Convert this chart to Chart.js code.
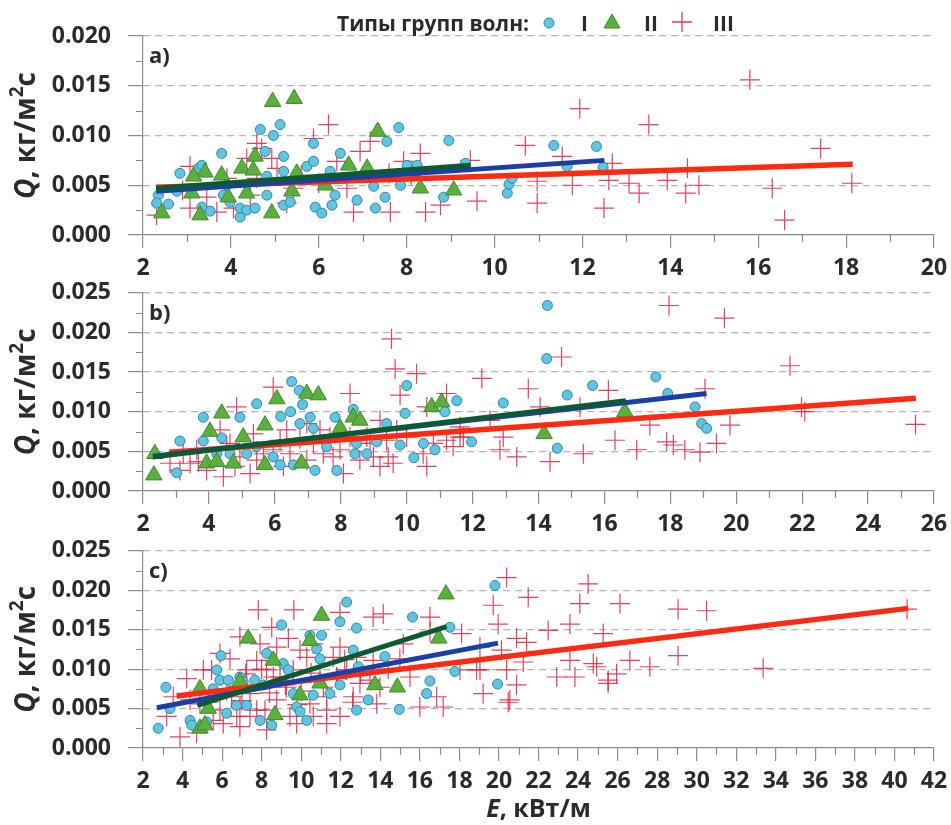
<!DOCTYPE html>
<html lang="ru">
<head>
<meta charset="utf-8">
<script src="https://cdn.jsdelivr.net/npm/chart.js@4.4.1/dist/chart.umd.min.js"></script>
<style>
  html, body { margin: 0; padding: 0; background: #fff; overflow: hidden; }
  #wrap { position: relative; width: 951px; height: 825px; overflow: hidden; }
  #wrap canvas { position: absolute; left: 0; }
  .lg { position: absolute; top: 9px; line-height: 26px; font: bold 21px "Open Sans", sans-serif; color: #2b2b2b; z-index: 5; white-space: nowrap; }
  .mk { position: absolute; z-index: 5; }
</style>
</head>
<body>
<div id="wrap">
  <canvas id="panelA" width="990" height="290" style="top:0px"></canvas>
  <canvas id="panelB" width="990" height="290" style="top:262px"></canvas>
  <canvas id="panelC" width="990" height="305" style="top:520px"></canvas>

  <div class="lg" style="left:337px">Типы групп волн:</div>
  <svg class="mk" style="left:543px;top:17px" width="12" height="12"><circle cx="6" cy="6" r="5" fill="#63c5dd" stroke="#2b86ad"/></svg>
  <div class="lg" style="left:581px">I</div>
  <svg class="mk" style="left:603px;top:13px" width="18" height="16"><polygon points="9,1 17,15 1,15" fill="#5cae3e" stroke="#3f8a2c"/></svg>
  <div class="lg" style="left:644px">II</div>
  <svg class="mk" style="left:672px;top:12px" width="20" height="20"><path d="M10 0 V20 M0 10 H20" stroke="rgba(215,35,65,0.9)" stroke-width="1.3"/></svg>
  <div class="lg" style="left:713px">III</div>
</div>
<script>
// ---- data: [E, Q] pairs ----
// panel a)
const aTypeI = [[2.35,0.0040],[2.31,0.0032],[2.58,0.0031],[2.84,0.0062],[3.26,0.0067],[3.34,0.0070],[2.77,0.0044],[3.34,0.0028],[3.53,0.0024],[3.79,0.0082],[3.83,0.0040],[3.98,0.0033],[4.21,0.0018],[4.21,0.0027],[4.36,0.0025],[4.55,0.0027],[4.67,0.0106],[4.78,0.0084],[4.82,0.0059],[4.97,0.0100],[5.12,0.0111],[5.20,0.0079],[5.20,0.0064],[5.20,0.0030],[5.73,0.0069],[5.88,0.0092],[5.88,0.0074],[5.92,0.0028],[6.07,0.0022],[6.30,0.0030],[6.26,0.0064],[6.37,0.0040],[6.49,0.0082],[6.87,0.0035],[7.25,0.0049],[7.29,0.0027],[7.51,0.0038],[7.55,0.0094],[7.82,0.0108],[7.86,0.0050],[8.01,0.0070],[8.24,0.0070],[8.84,0.0038],[8.96,0.0095],[5.35,0.0033],[4.82,0.0040],[3.91,0.0050],[9.34,0.0072],[10.29,0.0042],[10.33,0.0051],[10.40,0.0057],[11.35,0.0090],[11.65,0.0069],[12.32,0.0089],[12.47,0.0068]];
const aTypeII = [[4.95,0.0134],[5.44,0.0137],[7.34,0.0104],[4.55,0.0079],[4.25,0.0067],[3.41,0.0063],[3.15,0.0059],[3.11,0.0042],[3.79,0.0060],[3.94,0.0038],[4.36,0.0042],[4.51,0.0065],[4.93,0.0022],[3.30,0.0020],[2.43,0.0022],[5.50,0.0062],[5.39,0.0044],[6.15,0.0050],[6.68,0.0070],[7.10,0.0067],[8.31,0.0047],[9.07,0.0045]];
const aTypeIII = [[2.31,0.0020],[3.07,0.0027],[3.07,0.0069],[3.45,0.0038],[3.68,0.0023],[4.06,0.0027],[4.36,0.0077],[4.44,0.0040],[4.59,0.0092],[4.70,0.0087],[4.93,0.0077],[5.05,0.0067],[5.27,0.0032],[5.42,0.0047],[5.88,0.0097],[6.22,0.0111],[6.41,0.0074],[6.64,0.0047],[6.79,0.0023],[6.94,0.0084],[7.17,0.0094],[7.63,0.0023],[7.93,0.0074],[8.31,0.0082],[8.43,0.0023],[8.77,0.0030],[3.91,0.0057],[4.59,0.0057],[5.6,0.0060],[6.0,0.0052],[7.6,0.0062],[8.1,0.0060],[2.9,0.0045],[10.70,0.0090],[11.94,0.0127],[13.51,0.0111],[9.60,0.0034],[10.97,0.0054],[10.97,0.0032],[11.54,0.0079],[11.77,0.0050],[12.49,0.0027],[12.68,0.0072],[12.60,0.0055],[13.06,0.0052],[13.29,0.0042],[13.93,0.0055],[14.35,0.0042],[9.45,0.0075],[15.81,0.0156],[17.42,0.0087],[16.32,0.0047],[16.60,0.0015],[18.13,0.0052],[14.39,0.0067],[14.65,0.0050]];
const aTrendI = [[2.3,0.0044],[12.5,0.0075]];
const aTrendII = [[2.3,0.0047],[9.45,0.0070]];
const aTrendIII = [[2.3,0.0048],[18.15,0.0071]];

// panel b)
const bTypeI = [[3.12,0.0063],[3.02,0.0023],[3.83,0.0093],[3.83,0.0063],[4.39,0.0067],[4.94,0.0093],[5.45,0.0110],[6.18,0.0094],[6.51,0.0138],[6.74,0.0127],[6.48,0.0100],[6.84,0.0109],[6.76,0.0085],[7.07,0.0093],[7.17,0.0079],[7.83,0.0093],[7.88,0.0026],[8.38,0.0103],[8.43,0.0047],[8.79,0.0047],[10.00,0.0133],[9.95,0.0098],[10.22,0.0042],[10.51,0.0060],[10.86,0.0052],[11.52,0.0114],[11.16,0.0100],[9.39,0.0085],[7.22,0.0026],[6.16,0.0033],[6.56,0.0033],[4.24,0.0047],[4.64,0.0047],[5.15,0.0047],[5.45,0.0056],[7.57,0.0056],[8.48,0.0060],[5.95,0.0043],[9.09,0.0062],[9.80,0.0058],[14.25,0.0167],[15.64,0.0133],[14.87,0.0121],[12.93,0.0111],[11.97,0.0062],[14.57,0.0054],[17.56,0.0144],[17.92,0.0123],[18.75,0.0106],[18.95,0.0085],[19.10,0.0079],[14.27,0.0234]];
const bTypeII = [[2.36,0.0047],[2.33,0.0020],[4.39,0.0098],[4.03,0.0075],[6.06,0.0116],[6.97,0.0123],[7.32,0.0121],[5.70,0.0083],[5.04,0.0068],[3.93,0.0035],[4.24,0.0037],[4.74,0.0035],[5.70,0.0033],[6.81,0.0035],[8.38,0.0093],[8.58,0.0089],[7.98,0.0079],[10.76,0.0106],[11.06,0.0112],[14.17,0.0072],[16.62,0.0100]];
const bTypeIII = [[9.54,0.0192],[9.65,0.0154],[10.30,0.0148],[8.28,0.0123],[5.95,0.0131],[4.84,0.0106],[4.34,0.0077],[3.43,0.0035],[3.93,0.0026],[4.44,0.0018],[5.25,0.0022],[5.95,0.0052],[6.36,0.0077],[7.17,0.0060],[8.08,0.0022],[8.28,0.0068],[8.99,0.0043],[9.39,0.0064],[9.59,0.0035],[9.80,0.0121],[10.61,0.0106],[11.21,0.0123],[11.62,0.0081],[3.12,0.0026],[2.82,0.0035],[5.35,0.0072],[6.76,0.0066],[7.47,0.0047],[4.94,0.0043],[5.65,0.0047],[6.46,0.0047],[8.79,0.0068],[7.77,0.0043],[9.19,0.0089],[11.21,0.0064],[3.63,0.0052],[4.64,0.0060],[6.97,0.0039],[10.61,0.0031],[3.22,0.0047],[3.68,0.0037],[4.54,0.0056],[4.79,0.0031],[5.45,0.0039],[6.16,0.0064],[6.26,0.0031],[6.97,0.0085],[7.37,0.0077],[7.67,0.0068],[7.98,0.0052],[8.58,0.0039],[8.89,0.0060],[9.19,0.0031],[9.44,0.0043],[9.70,0.0077],[10.00,0.0068],[10.50,0.0047],[10.81,0.0060],[11.41,0.0056],[11.72,0.0068],[12.28,0.0142],[13.69,0.0129],[14.70,0.0169],[16.12,0.0127],[19.05,0.0129],[19.81,0.0083],[17.38,0.0083],[16.32,0.0064],[16.98,0.0052],[15.36,0.0047],[14.35,0.0037],[13.34,0.0043],[12.83,0.0052],[12.93,0.0068],[14.05,0.0106],[15.26,0.0106],[17.89,0.0062],[18.09,0.0058],[18.44,0.0052],[18.90,0.0049],[19.40,0.0060],[11.62,0.0068],[12.53,0.0089],[17.96,0.0234],[19.64,0.0218],[21.63,0.0158],[22.08,0.0100],[25.44,0.0084],[21.98,0.0106]];
const bTrendI = [[2.3,0.0044],[19.1,0.0123]];
const bTrendII = [[2.3,0.0043],[16.65,0.0114]];
const bTrendIII = [[2.8,0.0049],[25.45,0.0117]];

// panel c)
const cTypeI = [[2.77,0.0025],[3.16,0.0077],[3.37,0.0050],[4.38,0.0035],[4.46,0.0029],[5.22,0.0033],[5.73,0.0099],[5.94,0.0117],[5.89,0.0086],[6.31,0.0086],[6.90,0.0090],[7.07,0.0084],[6.73,0.0054],[7.24,0.0054],[7.66,0.0086],[8.08,0.0080],[8.25,0.0120],[9.01,0.0156],[9.09,0.0107],[9.35,0.0099],[9.77,0.0052],[9.94,0.0046],[10.28,0.0035],[10.44,0.0143],[10.78,0.0126],[11.03,0.0143],[10.95,0.0113],[11.96,0.0160],[12.30,0.0185],[12.80,0.0152],[12.63,0.0124],[12.80,0.0048],[13.39,0.0061],[12.89,0.0103],[8.51,0.0029],[7.92,0.0035],[6.23,0.0044],[5.55,0.0075],[9.60,0.0069],[10.61,0.0067],[11.45,0.0069],[11.96,0.0080],[19.80,0.0206],[15.63,0.0166],[17.52,0.0153],[14.23,0.0116],[17.77,0.0097],[16.51,0.0085],[16.34,0.0069],[14.96,0.0049],[19.93,0.0081]];
const cTypeII = [[4.88,0.0025],[5.13,0.0029],[4.88,0.0075],[5.30,0.0050],[7.32,0.0139],[11.03,0.0168],[10.44,0.0136],[8.59,0.0111],[6.90,0.0084],[8.67,0.0042],[9.94,0.0067],[13.73,0.0080],[17.32,0.0195],[16.96,0.0139],[14.86,0.0077],[10.95,0.0082]];
const cTypeIII = [[7.83,0.0175],[9.63,0.0175],[11.96,0.0172],[10.61,0.0132],[9.35,0.0139],[6.90,0.0141],[4.21,0.0088],[3.20,0.0040],[3.87,0.0014],[4.71,0.0019],[5.89,0.0048],[6.48,0.0065],[6.06,0.0031],[7.41,0.0040],[6.40,0.0113],[7.75,0.0111],[8.93,0.0090],[9.60,0.0099],[10.28,0.0115],[10.95,0.0090],[11.62,0.0115],[12.30,0.0099],[12.63,0.0065],[11.29,0.0048],[10.61,0.0040],[9.43,0.0040],[8.76,0.0061],[8.17,0.0048],[7.41,0.0069],[5.05,0.0099],[5.47,0.0099],[7.92,0.0132],[8.76,0.0128],[13.64,0.0166],[13.64,0.0111],[12.97,0.0082],[13.82,0.0056],[11.96,0.0040],[4.38,0.0061],[8.51,0.0153],[6.90,0.0027],[9.94,0.0124],[11.29,0.0065],[8.59,0.0090],[5.89,0.0120],[3.53,0.0065],[6.8,0.0078],[7.2,0.0094],[8.0,0.0100],[9.2,0.0080],[10.0,0.0072],[10.5,0.0095],[11.8,0.0088],[12.2,0.0112],[13.0,0.0095],[14.4,0.0100],[7.0,0.0060],[8.4,0.0070],[9.8,0.0055],[12.6,0.0058],[5.3,0.0058],[4.88,0.0056],[5.55,0.0035],[6.23,0.0073],[6.74,0.0040],[7.24,0.0099],[7.75,0.0048],[8.25,0.0099],[9.26,0.0077],[9.77,0.0031],[10.44,0.0056],[11.12,0.0077],[11.79,0.0090],[12.80,0.0115],[13.48,0.0086],[11.29,0.0031],[11.96,0.0128],[8.25,0.0023],[6.90,0.0052],[20.39,0.0216],[24.51,0.0208],[21.48,0.0191],[19.71,0.0181],[24.09,0.0183],[23.59,0.0157],[22.49,0.0149],[25.27,0.0145],[20.89,0.0139],[21.40,0.0134],[20.13,0.0124],[19.04,0.0128],[21.23,0.0109],[20.39,0.0099],[19.04,0.0099],[18.03,0.0099],[18.11,0.0145],[14.15,0.0170],[16.51,0.0166],[16.51,0.0147],[15.16,0.0132],[14.99,0.0113],[15.50,0.0090],[22.92,0.0090],[23.84,0.0090],[24.94,0.0103],[25.52,0.0086],[19.20,0.0069],[20.55,0.0061],[20.89,0.0080],[16.85,0.0065],[17.18,0.0052],[16.00,0.0052],[13.98,0.0077],[19.96,0.0157],[26.12,0.0183],[29.06,0.0176],[30.50,0.0174],[29.06,0.0117],[33.36,0.0101],[40.64,0.0176],[23.59,0.0111],[24.77,0.0107],[26.62,0.0111],[27.63,0.0103],[25.52,0.0082],[20.47,0.0058],[18.87,0.0099],[25.95,0.0094]];
const cTrendI = [[2.7,0.0051],[19.95,0.0133]];
const cTrendII = [[4.75,0.0054],[17.35,0.0154]];
const cTrendIII = [[3.7,0.0066],[40.7,0.0177]];

// axis ranges and labels
const panelLabels = ['a)', 'b)', 'c)'];
const xMax = [20, 26, 42];
const yMax = [0.020, 0.025, 0.025];

const FONT = '"Open Sans", "DejaVu Sans", sans-serif';
const TEXT = '#2b2b2b';
const AXIS = '#8a8a8a';

const toPts = arr => arr.map(([x, y]) => ({ x, y }));

// minor ticks, panel letter and axis titles
const decor = {
    id: 'decor',
    afterDraw(chart, args, opts) {
        const { ctx, chartArea: ca, scales: { x, y } } = chart;
        ctx.save();
        ctx.strokeStyle = AXIS;
        ctx.lineWidth = 1.2;
        ctx.beginPath();
        for (let v = x.min + 1; v < x.max; v += 2) {
            const px = Math.round(x.getPixelForValue(v)) + 0.5;
            ctx.moveTo(px, ca.bottom);
            ctx.lineTo(px, ca.bottom + 7);
        }
        for (let v = 0.0025; v < y.max; v += 0.005) {
            const py = Math.round(y.getPixelForValue(v)) + 0.5;
            ctx.moveTo(ca.left - 7, py);
            ctx.lineTo(ca.left, py);
        }
        ctx.stroke();

        ctx.fillStyle = TEXT;
        ctx.textBaseline = 'middle';
        ctx.textAlign = 'left';
        ctx.font = 'bold 22px ' + FONT;
        ctx.fillText(opts.label, ca.left + 6, ca.top + 21);

        // y title: Q, кг/м²с
        const parts = [
            { t: 'Q', f: 'italic bold 28px ' + FONT, dy: 0 },
            { t: ', кг/м', f: 'bold 28px ' + FONT, dy: 0 },
            { t: '2', f: 'bold 19px ' + FONT, dy: -9 },
            { t: 'с', f: 'bold 28px ' + FONT, dy: 0 }
        ];
        let total = 0;
        parts.forEach(p => { ctx.font = p.f; p.w = ctx.measureText(p.t).width; total += p.w; });
        ctx.save();
        ctx.translate(27, (ca.top + ca.bottom) / 2);
        ctx.rotate(-Math.PI / 2);
        let cx = -total / 2;
        parts.forEach(p => { ctx.font = p.f; ctx.fillText(p.t, cx, p.dy); cx += p.w; });
        ctx.restore();

        if (opts.xTitle) {
            const xp = [
                { t: 'E', f: 'italic bold 25px ' + FONT },
                { t: ', кВт/м', f: 'bold 25px ' + FONT }
            ];
            let tw = 0;
            xp.forEach(p => { ctx.font = p.f; p.w = ctx.measureText(p.t).width; tw += p.w; });
            let sx = (ca.left + ca.right) / 2 - tw / 2;
            xp.forEach(p => { ctx.font = p.f; ctx.fillText(p.t, sx, ca.bottom + 62); sx += p.w; });
        }
        ctx.restore();
    }
};

function buildDatasets(typeI, typeII, typeIII, trendI, trendII, trendIII) {
    return [
        { data: toPts(trendII), showLine: true, borderColor: '#0d5a32', borderWidth: 5, pointRadius: 0, order: 1 },
        { data: toPts(trendI), showLine: true, borderColor: '#1c3fa6', borderWidth: 5, pointRadius: 0, order: 2 },
        { data: toPts(trendIII), showLine: true, borderColor: '#ff2a12', borderWidth: 5.5, pointRadius: 0, order: 3 },
        { data: toPts(typeII), pointStyle: 'triangle', pointRadius: 9.5, backgroundColor: '#5cae3e', borderColor: '#3f8a2c', borderWidth: 1, order: 4 },
        { data: toPts(typeI), pointStyle: 'circle', pointRadius: 5, backgroundColor: '#63c5dd', borderColor: '#2b86ad', borderWidth: 1, order: 5 },
        { data: toPts(typeIII), pointStyle: 'cross', pointRadius: 10, borderColor: 'rgba(215,35,65,0.85)', borderWidth: 1.2, order: 6 }
    ];
}

function makePanel(canvasId, idx, datasets, padTop, xAxisH, xTitle) {
    new Chart(document.getElementById(canvasId), {
        type: 'scatter',
        data: { datasets },
        options: {
            responsive: false,
            animation: false,
            events: [],
            layout: { padding: { top: padTop, right: 56, left: 0, bottom: 0 } },
            plugins: {
                legend: { display: false },
                tooltip: { enabled: false },
                decor: { label: panelLabels[idx], xTitle }
            },
            scales: {
                x: {
                    type: 'linear',
                    min: 2,
                    max: xMax[idx],
                    afterFit: s => { s.height = xAxisH; },
                    ticks: { stepSize: 2, autoSkip: false, maxRotation: 0, padding: 7, color: TEXT, font: { family: FONT, size: 23, weight: 'bold' } },
                    grid: { drawOnChartArea: false, tickLength: 13, tickColor: AXIS, lineWidth: 1.2 },
                    border: { color: AXIS, width: 1.2 }
                },
                y: {
                    min: 0,
                    max: yMax[idx],
                    afterFit: s => { s.width = 143; },
                    ticks: { stepSize: 0.005, padding: 17, color: TEXT, font: { family: FONT, size: 23, weight: 'bold' }, callback: v => v.toFixed(3) },
                    grid: {
                        color: c => (c.tick && c.tick.value === 0) ? 'rgba(0,0,0,0)' : '#b4b4b4',
                        tickColor: AXIS, tickLength: 15, tickBorderDash: [], lineWidth: 1.2
                    },
                    border: { color: AXIS, width: 1.2, dash: [7, 5] }
                }
            }
        },
        plugins: [decor]
    });
}

makePanel('panelA', 0, buildDatasets(aTypeI, aTypeII, aTypeIII, aTrendI, aTrendII, aTrendIII), 36, 55, false);
makePanel('panelB', 1, buildDatasets(bTypeI, bTypeII, bTypeIII, bTrendI, bTrendII, bTrendIII), 30, 61, false);
makePanel('panelC', 2, buildDatasets(cTypeI, cTypeII, cTypeIII, cTrendI, cTrendII, cTrendIII), 30, 77, true);
</script>
</body>
</html>
